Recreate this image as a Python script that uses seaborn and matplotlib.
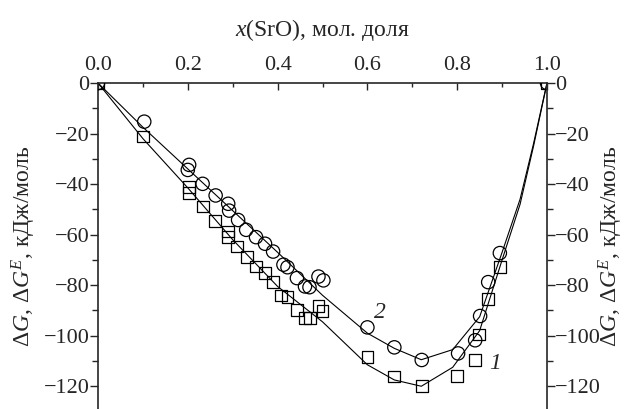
import matplotlib
matplotlib.use("Agg")
import matplotlib.pyplot as plt
import pandas as pd
import seaborn as sns
from matplotlib.ticker import MultipleLocator

# experimental points, curve 2 (circles): dG^E
x_circ = [0.0, 0.103, 0.203, 0.200, 0.233, 0.262, 0.290, 0.292, 0.312, 0.330,
          0.352, 0.372, 0.390, 0.413, 0.422, 0.443, 0.461, 0.471, 0.491, 0.502,
          0.600, 0.660, 0.721, 0.802, 0.840, 0.851, 0.869, 0.895, 1.0]
y_circ = [0.0, -15.3, -32.4, -34.4, -39.9, -44.5, -47.8, -50.5, -54.2, -58.1,
          -61.0, -63.6, -66.7, -71.9, -72.9, -77.2, -80.5, -80.8, -76.6, -78.1,
          -96.7, -104.6, -109.6, -107.0, -101.8, -92.2, -78.8, -67.3, 0.0]

# experimental points, curve 1 (squares): dG
x_sq = [0.0, 0.101, 0.203, 0.202, 0.233, 0.261, 0.290, 0.290, 0.309, 0.331,
        0.352, 0.372, 0.390, 0.407, 0.422, 0.443, 0.461, 0.472, 0.491, 0.500,
        0.600, 0.660, 0.721, 0.800, 0.840, 0.849, 0.869, 0.895, 1.0]
y_sq = [0.0, -21.2, -41.0, -43.4, -48.9, -54.6, -58.8, -60.8, -64.7, -68.7,
        -72.6, -75.2, -78.8, -84.1, -84.7, -89.7, -93.0, -93.0, -88.2, -90.1,
        -108.4, -116.1, -120.0, -116.0, -109.5, -99.5, -85.4, -72.9, 0.0]

# calculated curves
x_line = [0.0, 0.1, 0.2, 0.3, 0.4, 0.5, 0.6, 0.66, 0.72, 0.79, 0.85, 0.9, 0.94, 0.97, 1.0]
y_line2 = [0.0, -17.5, -34.0, -50.5, -67.0, -84.0, -99.0, -105.0, -109.5, -105.5, -92.5,
           -67.0, -46.0, -24.0, 0.0]
y_line1 = [0.0, -22.0, -41.5, -62.0, -80.5, -94.5, -111.5, -117.5, -120.0, -112.5, -98.0,
           -70.0, -48.0, -25.0, 0.0]

ylabel = r"$\Delta G$, $\Delta G^E$, кДж/моль"
xlabel = r"$x$(SrO), мол. доля"

sns.set_theme(style="ticks")
plt.rcParams["font.family"] = ["Liberation Serif", "DejaVu Serif"]
plt.rcParams["mathtext.fontset"] = "custom"
plt.rcParams["mathtext.rm"] = "Liberation Serif"
plt.rcParams["mathtext.it"] = "Liberation Serif:italic"
plt.rcParams["axes.unicode_minus"] = True

pts2 = pd.DataFrame({"x": x_circ, "y": y_circ})
pts1 = pd.DataFrame({"x": x_sq, "y": y_sq})
lines = pd.DataFrame({"x": x_line, "y1": y_line1, "y2": y_line2})

fig = plt.figure(figsize=(6.27, 4.09), dpi=100)
ax = fig.add_axes([98 / 627, 0.0, 449 / 627, 1 - 83 / 409])

sns.lineplot(data=lines, x="x", y="y2", ax=ax, color="black", lw=0.8, sort=False)
sns.lineplot(data=lines, x="x", y="y1", ax=ax, color="black", lw=0.8, sort=False)
sns.scatterplot(data=pts2, x="x", y="y", ax=ax, marker="o", s=92,
                facecolor="none", edgecolor="black", linewidth=0.9, zorder=3)
sns.scatterplot(data=pts1, x="x", y="y", ax=ax, marker="s", s=72,
                facecolor="none", edgecolor="black", linewidth=0.9, zorder=3)

ax.text(0.628, -91, "2", fontsize=17, style="italic", ha="center", va="center")
ax.text(0.884, -111, "1", fontsize=17, style="italic", ha="center", va="center")

ax.set_xlim(0, 1.0)
ax.set_ylim(-129, 0)
ax.xaxis.tick_top()
ax.xaxis.set_label_position("top")
ax.set_xlabel(xlabel, fontsize=17, labelpad=14)
ax.set_ylabel(ylabel, fontsize=17, labelpad=4)
ax.xaxis.set_major_locator(MultipleLocator(0.2))
ax.xaxis.set_minor_locator(MultipleLocator(0.1))
ax.yaxis.set_major_locator(MultipleLocator(20))
ax.yaxis.set_minor_locator(MultipleLocator(10))
ax.xaxis.set_major_formatter(plt.FormatStrFormatter("%.1f"))
ax.tick_params(axis="x", which="major", direction="in", length=5, width=1, labelsize=16, pad=6)
ax.tick_params(axis="x", which="minor", direction="in", length=3, width=1)
ax.tick_params(axis="y", which="major", direction="out", length=6, width=1, labelsize=16, pad=0)
ax.tick_params(axis="y", which="minor", direction="out", length=4, width=1)
for side in ["bottom", "right"]:
    ax.spines[side].set_visible(False)
for side in ["top", "left"]:
    ax.spines[side].set_linewidth(1.2)

ax2 = ax.twinx()
ax2.set_ylim(ax.get_ylim())
ax2.yaxis.set_major_locator(MultipleLocator(20))
ax2.yaxis.set_minor_locator(MultipleLocator(10))
ax2.tick_params(axis="y", which="major", direction="out", length=6, width=1, labelsize=16, pad=0)
ax2.tick_params(axis="y", which="minor", direction="out", length=4, width=1)
ax2.set_ylabel(ylabel, fontsize=17, labelpad=-3)
for side in ["bottom", "top", "left"]:
    ax2.spines[side].set_visible(False)
ax2.spines["right"].set_linewidth(1.2)

fig.savefig("out.png", dpi=100)
